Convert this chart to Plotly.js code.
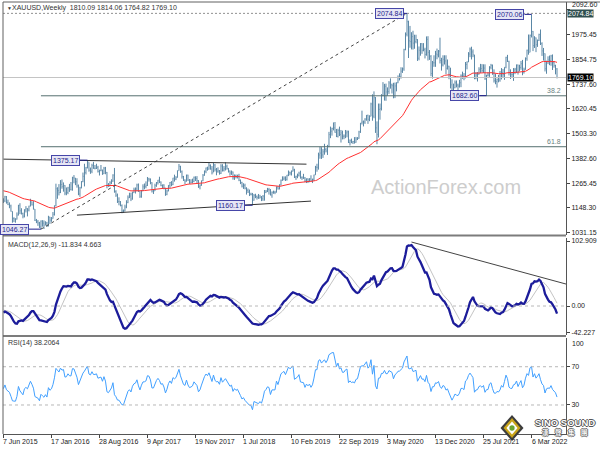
<!DOCTYPE html>
<html><head><meta charset="utf-8">
<script src="https://cdn.plot.ly/plotly-3.0.1.min.js"></script>
<style>html,body{margin:0;padding:0;background:#fff}#chart{width:600px;height:450px}</style>
</head><body><div id="chart"></div>
<script>
// ---------------- DATA (weekly XAUUSD) ----------------
const tickWeeks = [0,32,64,96,128,160,192,224,256,288,320,352];
const tickLabels = ['7 Jun 2015','17 Jan 2016','28 Aug 2016','9 Apr 2017','19 Nov 2017','1 Jul 2018',
  '10 Feb 2019','22 Sep 2019','3 May 2020','13 Dec 2020','25 Jul 2021','6 Mar 2022'];
const priceTicks = [1031.15,1148.30,1265.45,1382.60,1503.30,1620.45,1737.60,1854.75,1975.45,2092.60];
const firstOpen = 1189;
const high = [
1193,1205,1204,1187,1174,1163,1131,1103,1098,1126, 1162,1170,1146,1125,1141,1156,1146,1158,1191,1178,
1180,1142,1095,1090,1081,1088,1089,1088,1084,1081, 1110,1105,1104,1128,1159,1263,1246,1261,1280,1283,
1269,1256,1245,1248,1262,1271,1296,1304,1290,1289, 1259,1248,1275,1316,1358,1343,1375.17,1365,1340,1358,
1367,1352,1358,1348,1330,1352,1330,1343,1343,1319, 1266,1275,1284,1308,1338,1232,1216,1198,1180,1164,
1140,1163,1184,1207,1220,1220,1225,1244,1245,1263, 1264,1227,1233,1260,1264,1274,1295,1291,1288,1270,
1236,1263,1271,1281,1296,1274,1259,1260,1243,1235, 1256,1271,1275,1291,1306,1299,1326,1357,1348,1326,
1300,1284,1306,1306,1285,1284,1287,1297,1298,1299, 1280,1260,1278,1309,1326,1340,1344,1366,1355,1347,
1362,1357,1338,1341,1328,1356,1356,1347,1365,1354, 1337,1326,1326,1321,1307,1307,1306,1310,1283,1272,
1265,1263,1246,1240,1235,1220,1219,1214,1215,1207, 1214,1210,1204,1209,1233,1233,1243,1243,1237,1226,
1230,1229,1250,1250,1260,1283,1298,1298,1298,1305, 1326,1320,1326,1346,1334,1301,1311,1320,1325,1298,
1310,1295,1288,1289,1289,1303,1287,1306,1348,1358, 1411,1439,1437,1428,1453,1433,1448,1510,1535,1530,
1555,1557,1524,1525,1535,1519,1516,1498,1519,1517, 1516,1474,1478,1467,1485,1486,1485,1515,1552,1611,
1564,1575,1590,1592,1589,1649,1689,1703,1676,1560, 1645,1645,1690,1747,1739,1740,1722,1752,1765,1740,
1744,1745,1746,1779,1789,1818,1817,1906,1984,2074.84, 2040,2015,1985,1992,1973,1973,1952,1917,1933,1933,
1933,1911,1965,1966,1900,1876,1848,1875,1896,1907, 1900,1959,1863,1875,1875,1875,1855,1825,1816,1760,
1740,1755,1755,1740,1758,1784,1797,1790,1843,1846, 1890,1912,1916,1903,1877,1795,1795,1818,1834,1833,
1832,1832,1782,1795,1823,1834,1831,1808,1787,1764, 1781,1800,1814,1810,1818,1868,1877,1849,1808,1793,
1814,1815,1831,1831,1830,1848,1853,1816,1865,1902, 1974,1974,2070.06,1991,1966,1960,1950,1978,1998,1937,
1910,1884,1849,1870,1874,1877,1879,1847,1830,1814.06];
const low = [
1171,1175,1168,1161,1146,1130,1077,1080,1077,1092, 1112,1118,1116,1098,1102,1126,1107,1131,1155,1159,
1140,1085,1075,1062,1052,1046.27,1058,1047,1065,1057, 1060,1071,1081,1096,1111,1155,1191,1207,1218,1239,
1225,1208,1208,1213,1224,1232,1230,1265,1256,1244, 1208,1200,1241,1270,1250,1307,1336,1320,1310,1313,
1334,1331,1333,1316,1302,1322,1305,1309,1308,1241, 1248,1251,1261,1272,1220,1200,1171,1160,1155,1122,
1124,1131,1146,1170,1195,1180,1187,1219,1216,1227, 1224,1195,1196,1228,1236,1241,1252,1273,1260,1221,
1214,1228,1248,1259,1266,1251,1242,1236,1205,1208, 1227,1243,1251,1256,1273,1280,1292,1325,1315,1287,
1276,1261,1273,1276,1262,1265,1265,1270,1276,1264, 1243,1236,1253,1275,1301,1313,1325,1330,1330,1307,
1318,1321,1303,1315,1306,1309,1321,1321,1326,1330, 1316,1301,1305,1282,1281,1288,1288,1275,1261,1245,
1238,1236,1211,1219,1204,1207,1160.17,1182,1194,1187, 1191,1193,1180,1181,1182,1218,1223,1211,1207,1196,
1215,1213,1221,1235,1236,1255,1277,1279,1276,1278, 1299,1303,1302,1321,1290,1281,1289,1297,1287,1281,
1286,1270,1266,1266,1270,1275,1266,1276,1305,1320, 1330,1382,1381,1386,1401,1412,1400,1437,1480,1492,
1517,1506,1485,1483,1490,1459,1474,1475,1480,1484, 1457,1445,1456,1452,1454,1458,1471,1477,1505,1545,
1536,1548,1563,1548,1561,1584,1563,1575,1505,1451, 1483,1568,1612,1680,1659,1658,1682,1691,1716,1693,
1670,1671,1703,1742,1755,1764,1791,1801,1899,1965, 1862,1911,1903,1902,1906,1932,1848,1851,1873,1882,
1894,1860,1873,1850,1853,1775,1764,1820,1820,1856, 1865,1836,1802,1822,1831,1785,1807,1761,1717,1687,
1677,1718,1722,1677,1721,1723,1763,1756,1765,1808, 1843,1866,1855,1866,1761,1761,1750,1783,1791,1793,
1791,1758,1682.60,1774,1772,1808,1782,1745,1737,1721, 1746,1749,1760,1770,1758,1813,1843,1779,1762,1770,
1753,1785,1790,1783,1800,1806,1780,1788,1806,1849, 1878,1889,1960,1895,1910,1890,1915,1943,1924,1872,
1850,1798,1787,1833,1828,1825,1805,1816,1784,1764.82];
const close = [
1181,1201,1173,1163,1157,1131,1097,1095,1094,1113, 1160,1134,1121,1108,1138,1145,1137,1156,1177,1162,
1142,1088,1081,1076,1057,1085,1075,1065,1076,1061, 1104,1089,1096,1117,1158,1239,1230,1221,1259,1249,
1255,1218,1221,1243,1234,1233,1291,1290,1272,1253, 1214,1243,1273,1298,1316,1339,1366,1327,1322,1350,
1336,1336,1341,1321,1326,1328,1310,1337,1317,1257, 1251,1267,1275,1304,1225,1208,1178,1177,1159,1133,
1133,1152,1173,1196,1204,1190,1220,1234,1238,1257, 1226,1203,1229,1248,1249,1254,1286,1284,1268,1228,
1228,1254,1268,1280,1271,1254,1257,1242,1212,1228, 1255,1269,1258,1290,1285,1292,1325,1346,1320,1297,
1280,1275,1304,1280,1266,1269,1274,1294,1288,1278, 1248,1256,1277,1303,1322,1338,1332,1349,1333,1315,
1352,1330,1322,1324,1312,1347,1327,1334,1346,1336, 1323,1314,1319,1291,1302,1294,1298,1279,1269,1251,
1255,1241,1231,1223,1213,1212,1184,1206,1201,1197, 1194,1199,1191,1203,1222,1227,1235,1233,1209,1222,
1222,1222,1248,1238,1257,1279,1285,1290,1282,1304, 1318,1314,1322,1329,1294,1298,1303,1313,1292,1291,
1290,1276,1286,1281,1286,1277,1284,1305,1341,1341, 1400,1409,1400,1415,1426,1419,1440,1497,1513,1526,
1529,1507,1488,1517,1497,1505,1489,1490,1505,1510, 1459,1468,1461,1464,1460,1476,1479,1510,1552,1557,
1557,1571,1589,1570,1584,1643,1585,1673,1529,1498, 1617,1620,1683,1683,1727,1700,1702,1743,1734,1730,
1684,1729,1744,1771,1774,1799,1810,1902,1975,2035, 1944,1940,1964,1933,1940,1950,1861,1899,1930,1899,
1902,1879,1951,1889,1870,1788,1839,1839,1881,1877, 1895,1850,1829,1856,1848,1813,1823,1784,1734,1700,
1720,1744,1733,1728,1744,1777,1777,1768,1831,1843, 1881,1904,1891,1877,1764,1781,1784,1808,1812,1802,
1814,1763,1780,1781,1818,1827,1788,1754,1750,1761, 1757,1768,1793,1783,1818,1865,1846,1792,1783,1783,
1805,1809,1829,1797,1817,1835,1792,1808,1859,1899, 1889,1970,1989,1921,1958,1926,1946,1974,1931,1896,
1883,1811,1846,1853,1850,1872,1840,1826,1810.09,1769.10];

const maStart = 1231, ema12Start = 1195, ema26Start = 1205, signalStart = -6;
const rsiGainStart = 10, rsiLossStart = 10.6;

// ---------------- INDICATORS ----------------
const weekIndex = close.map((_, i) => i);
const open = close.map((c, i) => i === 0 ? firstOpen : close[i - 1]);
function ema(src, n, start) { const k = 2 / (n + 1); let p = start; return src.map(v => (p = p + k * (v - p))); }
const ma = ema(close, 55, maStart);
const e12 = ema(close, 12, ema12Start), e26 = ema(close, 26, ema26Start);
const macd = e12.map((v, i) => v - e26[i]);
const signal = macd.map((v, i) => { let s = 0; for (let j = i - 8; j <= i; j++) s += j >= 0 ? macd[j] : signalStart; return s / 9; });
let ag = rsiGainStart, al = rsiLossStart, prevC = firstOpen;
const rsi = close.map(c => { const d = c - prevC; prevC = c; ag = (ag * 13 + Math.max(d, 0)) / 14; al = (al * 13 + Math.max(-d, 0)) / 14; return 100 - 100 / (1 + ag / al); });

// ---------------- DRAWING ----------------
const FONT = 'Liberation Sans, Arial, sans-serif';
const TXT = '#222';
const OUTLINE = '1px 0 0 #555, -1px 0 0 #555, 0 1px 0 #555, 0 -1px 0 #555';
const pivotText = ['2074.84','2070.06','1682.60','1375.17','1160.17','1046.27'];
const pivotPrice = [2074.84, 2070.06, 1682.60, 1375.17, 1160.17, 1046.27];
const pivotBar = [269, 352, 322, 56, 166, 25];
const pivotBoxRight = [266.7, 347.3, 317.3, 50.7, 160.7, 16.7];

const traces = [
  {type:'ohlc', x:weekIndex, open:open, high:high, low:low, close:close, xaxis:'x', yaxis:'y',
   increasing:{line:{color:'#5a87a6', width:1}}, decreasing:{line:{color:'#5a87a6', width:1}}, hoverinfo:'skip'},
  {type:'scatter', mode:'lines', x:weekIndex, y:ma, xaxis:'x', yaxis:'y', line:{color:'#ff3030', width:1}, hoverinfo:'skip'},
  {type:'scatter', mode:'lines', x:weekIndex, y:signal, xaxis:'x', yaxis:'y2', line:{color:'#c4c4c4', width:1}, hoverinfo:'skip'},
  {type:'scatter', mode:'lines', x:weekIndex, y:macd, xaxis:'x', yaxis:'y2', line:{color:'#1c1c9a', width:2.3}, hoverinfo:'skip'},
  {type:'scatter', mode:'lines', x:weekIndex, y:rsi, xaxis:'x', yaxis:'y3', line:{color:'#41a0ff', width:1}, hoverinfo:'skip'}
];

const XR = [-0.3, 375];
const shapes = [
  {type:'line', xref:'x', yref:'y', x0:XR[0], x1:XR[1], y0:2074.84, y1:2074.84, line:{color:'#909090', width:1, dash:'2px,2px'}},
  {type:'line', xref:'x', yref:'y', x0:XR[0], x1:XR[1], y0:1769.10, y1:1769.10, line:{color:'#c4c4c4', width:1}},
  {type:'line', xref:'x', yref:'y', x0:25, x1:XR[1], y0:1681.93, y1:1681.93, line:{color:'#557070', width:1}},
  {type:'line', xref:'x', yref:'y', x0:25, x1:XR[1], y0:1439.18, y1:1439.18, line:{color:'#557070', width:1}},
  {type:'line', xref:'x', yref:'y', x0:25, y0:1046.27, x1:269, y1:2074.84, line:{color:'#444', width:1, dash:'3px,3px'}},
  {type:'line', xref:'x', yref:'y', x0:0, y0:1380, x1:202, y1:1356, line:{color:'#333', width:1}},
  {type:'line', xref:'x', yref:'y', x0:49, y0:1113, x1:205, y1:1180, line:{color:'#333', width:1}},
  {type:'line', xref:'x', yref:'y2', x0:272, y0:101.3, x1:375, y1:34.8, line:{color:'#444', width:1}},
  {type:'line', xref:'x', yref:'y2', x0:XR[0], x1:XR[1], y0:0, y1:0, line:{color:'#b8b8b8', width:1, dash:'3px,3px'}},
  {type:'line', xref:'x', yref:'y3', x0:XR[0], x1:XR[1], y0:70, y1:70, line:{color:'#b8b8b8', width:1, dash:'3px,3px'}},
  {type:'line', xref:'x', yref:'y3', x0:XR[0], x1:XR[1], y0:30, y1:30, line:{color:'#b8b8b8', width:1, dash:'3px,3px'}},
  {type:'line', xref:'paper', yref:'paper', x0:0, x1:1, y0:0.4595, y1:0.4595, line:{color:'#7c7c7c', width:2}},
  {type:'line', xref:'paper', yref:'paper', x0:0, x1:1, y0:0.2269, y1:0.2269, line:{color:'#7c7c7c', width:2}},
  {type:'line', xref:'paper', yref:'paper', x0:0, x1:0, y0:0, y1:1, line:{color:'#606060', width:1}},
  {type:'line', xref:'paper', yref:'paper', x0:0, x1:1.07, y0:1, y1:1, line:{color:'#606060', width:1}},
  {type:'path', xref:'paper', yref:'paper', path:'M0.9041,0.0440 L0.9245,0.01389 L0.9041,-0.0162 L0.8837,0.01389 Z', fillcolor:'#3c3c3c', line:{width:0}},
  {type:'path', xref:'paper', yref:'paper', path:'M0.9041,0.0370 L0.9192,0.01389 L0.9041,-0.0092 L0.8890,0.01389 Z', fillcolor:'#c9a51a', line:{width:0}},
  {type:'path', xref:'paper', yref:'paper', path:'M0.9041,0.0290 L0.9140,0.01389 L0.9041,-0.0012 L0.8942,0.01389 Z', fillcolor:'#ffffff', line:{width:0}},
  {type:'circle', xref:'paper', yref:'paper', x0:0.8994, x1:0.9088, y0:0.0075, y1:0.0203, fillcolor:'#6aa532', line:{width:0}}
];
pivotBar.forEach((b, i) => shapes.push({type:'line', xref:'x', yref:'y', x0:pivotBoxRight[i], x1:b, y0:pivotPrice[i], y1:pivotPrice[i], line:{color:'#1e1e8c', width:1}}));

const annotations = [
  {xref:'paper', yref:'paper', x:0.0035, y:0.987, xanchor:'left', yanchor:'middle', text:'▼', showarrow:false, font:{family:FONT, size:5, color:'#333'}},
  {xref:'paper', yref:'paper', x:0.0124, y:0.987, xanchor:'left', yanchor:'middle', text:'XAUUSD,Weekly  1810.09 1814.06 1764.82 1769.10', showarrow:false, font:{family:FONT, size:7, color:'#333'}},
  {xref:'paper', yref:'paper', x:0.005, y:0.4375, xanchor:'left', yanchor:'middle', text:'MACD(12,26,9) -11.834 4.663', showarrow:false, font:{family:FONT, size:7, color:'#333'}},
  {xref:'paper', yref:'paper', x:0.005, y:0.2106, xanchor:'left', yanchor:'middle', text:'RSI(14) 38.2064', showarrow:false, font:{family:FONT, size:7, color:'#333'}},
  {xref:'paper', yref:'y3', x:1, y:100, xanchor:'left', yanchor:'middle', xshift:4, yshift:-5, text:'100', showarrow:false, font:{family:FONT, size:7, color:TXT}},
  {xref:'paper', yref:'y', x:1, y:2092.60, xanchor:'left', yanchor:'middle', xshift:4, yshift:5, text:'2092.60', showarrow:false, font:{family:FONT, size:7, color:TXT}},
  {xref:'x', yref:'y', x:373, y:1681.93, xanchor:'right', yanchor:'bottom', text:'38.2', showarrow:false, font:{family:FONT, size:7, color:'#6a7f7f'}},
  {xref:'x', yref:'y', x:373, y:1439.18, xanchor:'right', yanchor:'bottom', text:'61.8', showarrow:false, font:{family:FONT, size:7, color:'#6a7f7f'}},
  {xref:'paper', yref:'y', x:1, y:2074.84, xanchor:'left', yanchor:'middle', xshift:1, text:'2074.84', showarrow:false, bgcolor:'#2f4f4f', borderpad:0, font:{family:FONT, size:7, color:'#fff'}},
  {xref:'paper', yref:'y', x:1, y:1769.10, xanchor:'left', yanchor:'middle', xshift:1, text:'1769.10', showarrow:false, bgcolor:'#000', borderpad:0, font:{family:FONT, size:7, color:'#fff'}},
  {xref:'paper', yref:'paper', x:0.787, y:0.5718, xanchor:'center', yanchor:'middle', text:'ActionForex.com', showarrow:false, font:{family:FONT, size:20, color:'#cdcdcd'}},
  {xref:'paper', yref:'paper', x:0.999, y:0.0265, xanchor:'center', yanchor:'middle', text:'<b>SINO SOUND</b>', showarrow:false, font:{family:FONT, size:9.5, color:'#fff', shadow:OUTLINE}},
  {xref:'paper', yref:'paper', x:0.999, y:0.0055, xanchor:'center', yanchor:'middle', text:'<b>漢\u2003聲\u2003集\u2003團</b>', showarrow:false, font:{family:'Noto Sans CJK TC, sans-serif', size:6.5, color:'#fff', shadow:OUTLINE}}
];
tickWeeks.forEach((w, i) => annotations.push({xref:'x', yref:'paper', x:w, y:-0.0175, xanchor:'left', yanchor:'middle', xshift:-2,
  text:tickLabels[i], showarrow:false, font:{family:FONT, size:7, color:TXT}}));
pivotText.forEach((t, i) => annotations.push({xref:'x', yref:'y', x:pivotBoxRight[i], y:pivotPrice[i], xanchor:'right', yanchor:'middle',
  text:t, showarrow:false, bgcolor:'#e6e6f5', bordercolor:'#4646a8', borderwidth:1, borderpad:1, font:{family:FONT, size:7, color:'#1e1e8c'}}));

const yCommon = {side:'right', anchor:'x', showgrid:false, zeroline:false, showline:true, linecolor:'#555', linewidth:1,
  ticks:'outside', ticklen:3, tickcolor:'#444', tickfont:{family:FONT, size:7, color:TXT}, fixedrange:true};

const layout = {
  width:600, height:450, margin:{l:3, r:34, t:2, b:16}, paper_bgcolor:'#fff', plot_bgcolor:'#fff', showlegend:false,
  font:{family:FONT, size:7, color:TXT},
  xaxis:{range:XR, anchor:'y3', showgrid:false, zeroline:false, showline:true, linecolor:'#555', linewidth:1,
    tickvals:tickWeeks, showticklabels:false, ticks:'outside', ticklen:3, tickcolor:'#444',
    rangeslider:{visible:false}, fixedrange:true},
  yaxis: Object.assign({}, yCommon, {domain:[0.4606, 1], range:[1018.3, 2129.0], tickvals:priceTicks,
    ticktext:priceTicks.map(v => v === 2092.60 ? '' : v.toFixed(2))}),
  yaxis2: Object.assign({}, yCommon, {domain:[0.2292, 0.4537], range:[-45.9, 107.7], tickvals:[102.909, 0, -42.227], ticktext:['102.909','0.00','-42.227']}),
  yaxis3: Object.assign({}, yCommon, {domain:[0, 0.2222], range:[-0.3, 100], tickvals:[30, 70], ticktext:['30','70']}),
  shapes:shapes, annotations:annotations
};
Plotly.newPlot('chart', traces, layout, {displayModeBar:false, staticPlot:true});
</script></body></html>
